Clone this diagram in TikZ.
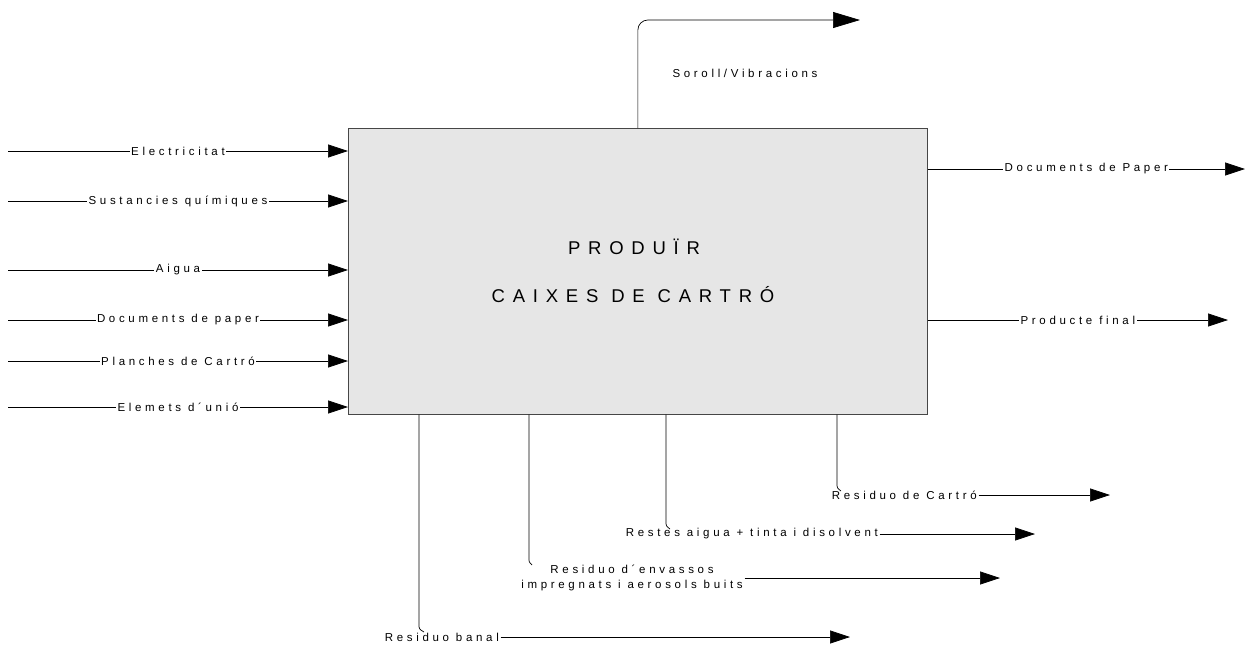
\documentclass[tikz,border=0pt]{standalone}
\usepackage{fontspec}
\setmainfont{Liberation Sans}
\newfontfamily\spaced[LetterSpace=32]{Liberation Sans}
\newfontfamily\wide[LetterSpace=42]{Liberation Sans}
\usetikzlibrary{arrows.meta,positioning}
\definecolor{boxgray}{RGB}{230,230,230}
\definecolor{edgegray}{RGB}{70,70,70}

\begin{document}
\begin{tikzpicture}[x=1pt,y=-1pt,line width=0.7pt,
    flow/.style={-{Triangle[length=20pt,width=13pt]}},
    bigflow/.style={-{Triangle[length=27pt,width=16pt]}},
    lbl/.style={fill=white,inner sep=1.5pt,font=\spaced\fontsize{11.5}{15}\selectfont},
    tag/.style={inner sep=1.5pt,font=\spaced\fontsize{11.5}{15}\selectfont},
    title/.style={font=\wide\fontsize{18.5}{22}\selectfont}]
  \useasboundingbox (0,0) rectangle (1248,646);
  \node[draw=edgegray,fill=boxgray,minimum width=579pt,minimum height=286pt,
        anchor=north west,inner sep=0pt] (proc) at (348,128) {};
  \node[title] (t1) at (634,247) {PRODUÏR};
  \node[title] (t2) at (633,295) {CAIXES DE CARTRÓ};

  % entrades
  \foreach \y/\txt [count=\i] in {151/Electricitat,201/Sustancies químiques,
      270/Aigua,320/Documents de paper,361/Planches de Cartró,407/Elemets d´unió}{
    \coordinate (in\i) at (8,\y);
    \draw[flow] (in\i) -- node[lbl] {\txt} (proc.west |- in\i);
  }

  % soroll
  \coordinate (snd) at (860,20);
  \draw[bigflow,rounded corners=10pt] (proc.north) |- (snd);
  \node[tag] (sv) at (745,73) {Soroll/Vibracions};

  % sortides
  \coordinate (o1) at (1245,169);
  \coordinate (o2) at (1228,320);
  \draw[flow] (proc.east |- o1) -- node[lbl] {Documents de Paper} (o1);
  \draw[flow] (proc.east |- o2) -- node[lbl] {Producte final} (o2);

  % residus
  \node[tag,anchor=west] (r1) at (830,495) {Residuo de Cartró};
  \node[tag,anchor=west] (r2) at (624,534) {Restes aigua + tinta i disolvent};
  \node[tag,align=center] (r3) at (632,578) {Residuo d´envassos\\impregnats i aerosols buits};
  \node[tag,anchor=west] (r4) at (383,637) {Residuo banal};

  \coordinate (b1) at (837,483);
  \coordinate (b2) at (666,521);
  \coordinate (b3) at (529,558);
  \coordinate (b4) at (419,624);
  \draw (proc.south -| b1) -- (b1) .. controls (837,488) .. (841,491);
  \draw (proc.south -| b2) -- (b2) .. controls (666,526) .. (670,529);
  \draw (proc.south -| b3) -- (b3) .. controls (529,562) .. (532,565);
  \draw (proc.south -| b4) -- (b4) .. controls (419,629) .. (424,632);

  \coordinate (w1) at (1110,495);
  \coordinate (w2) at (1035,534);
  \coordinate (w3) at (1000,578);
  \coordinate (w4) at (850,637);
  \draw[flow] (r1.east) -- (w1);
  \draw[flow] (r2.east) -- (w2);
  \draw[flow] (r3.east) -- (w3);
  \draw[flow] (r4.east) -- (w4);
\end{tikzpicture}
\end{document}
